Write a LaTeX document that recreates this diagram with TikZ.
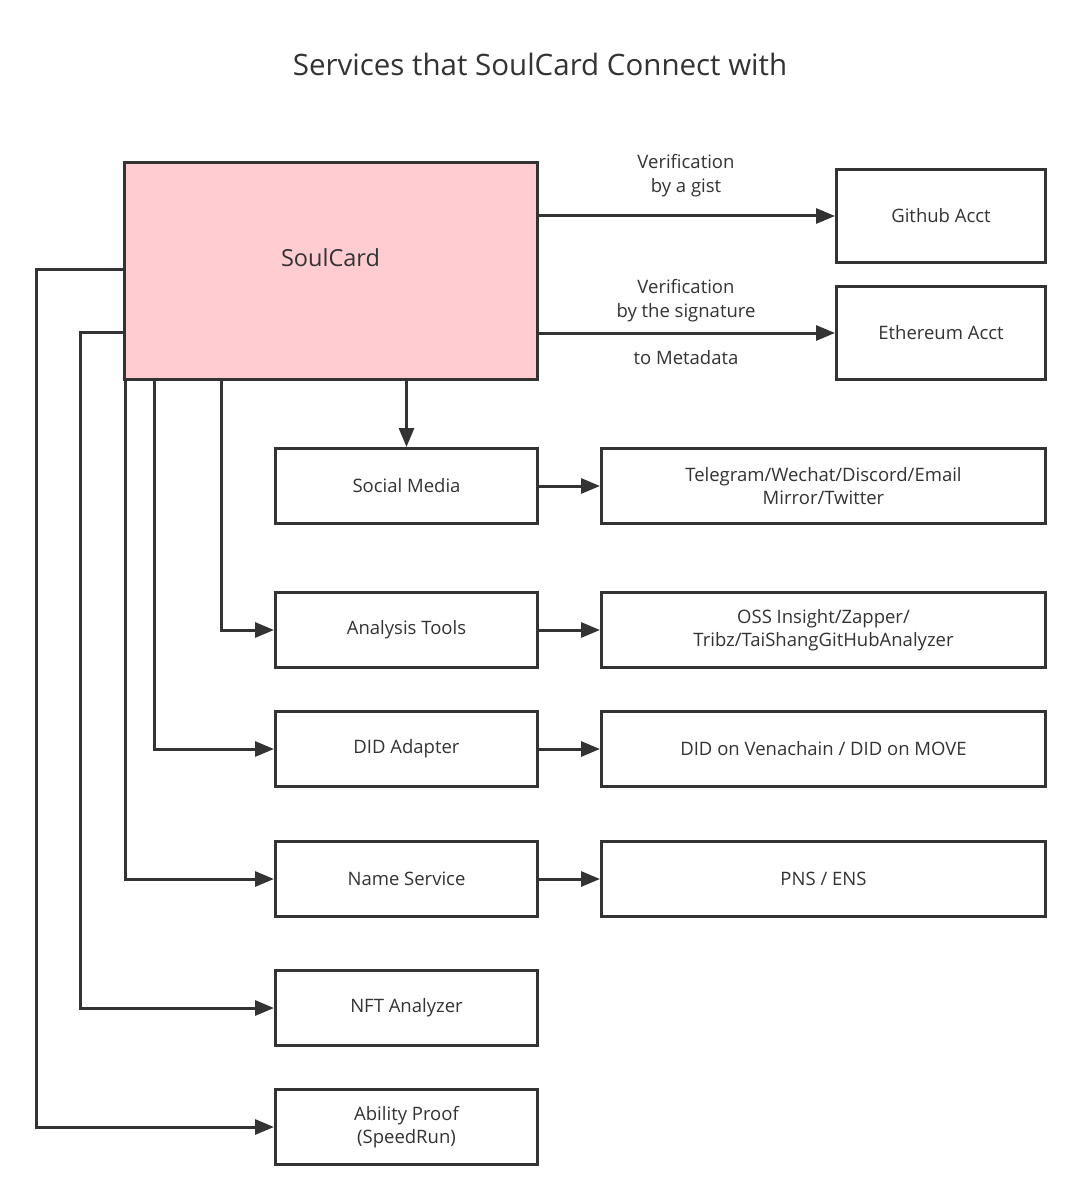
\documentclass[tikz,border=0pt]{standalone}
\usepackage{fontspec}
\setmainfont{Open Sans}
\usetikzlibrary{arrows.meta}
\definecolor{ink}{HTML}{333333}
\definecolor{soulpink}{HTML}{FFCCD2}
\tikzset{
  box/.style={draw=ink, line width=3pt, fill=white, inner sep=0pt, anchor=north west, text=ink, font=\fontsize{18.5}{23}\selectfont, align=center},
  conn/.style={draw=ink, line width=3pt, -{Triangle[length=19pt,width=15pt]}},
  lbl/.style={text=ink, font=\fontsize{18.5}{24}\selectfont, align=center, inner sep=0pt}
}
\begin{document}
\begin{tikzpicture}[x=1pt,y=-1pt]
\useasboundingbox[fill=white] (0,0) rectangle (1080,1198);
\node[text=ink, font=\fontsize{29.5}{34}\selectfont] (title) at (540,64) {Services that SoulCard Connect with};

\node[box, fill=soulpink, minimum width=413pt, minimum height=217pt, font=\fontsize{23.5}{28}\selectfont] (soul) at (122.5,161) {\raisebox{27pt}{SoulCard}};

\node[box, minimum width=209pt, minimum height=93pt] (github) at (835,168) {Github Acct};
\node[box, minimum width=209pt, minimum height=93pt] (eth) at (835,285) {Ethereum Acct};

\node[box, minimum width=262pt, minimum height=75pt] (social) at (274,447) {Social Media};
\node[box, minimum width=444pt, minimum height=75pt] (socialt) at (600,447) {Telegram/Wechat/Discord/Email\\Mirror/Twitter};

\node[box, minimum width=262pt, minimum height=75pt] (analysis) at (274,591) {Analysis Tools};
\node[box, minimum width=444pt, minimum height=75pt] (analysist) at (600,591) {OSS Insight/Zapper/\\Tribz/TaiShangGitHubAnalyzer};

\node[box, minimum width=262pt, minimum height=75pt] (did) at (274,710) {DID Adapter};
\node[box, minimum width=444pt, minimum height=75pt] (didt) at (600,710) {DID on Venachain / DID on MOVE};

\node[box, minimum width=262pt, minimum height=75pt] (name) at (274,840) {Name Service};
\node[box, minimum width=444pt, minimum height=75pt] (namet) at (600,840) {PNS / ENS};

\node[box, minimum width=262pt, minimum height=75pt] (nft) at (274,969) {NFT Analyzer};

\node[box, minimum width=262pt, minimum height=75pt] (ability) at (274,1088) {Ability Proof\\(SpeedRun)};

% labels
\node[lbl] (l1) at (686,176) {Verification\\by a gist};
\node[lbl] (l2) at (686,301) {Verification\\by the signature};
\node[lbl] (l3) at (686,358) {to Metadata};

% right connectors
\draw[conn] (soul.east |- github.west) -- (github.west);
\draw[conn] (soul.east |- eth.west) -- (eth.west);

% down to social
\draw[conn] (soul.south -| social.north) -- (social.north);
\draw[conn] (social.east) -- (socialt.west);
\draw[conn] (analysis.east) -- (analysist.west);
\draw[conn] (did.east) -- (didt.west);
\draw[conn] (name.east) -- (namet.west);

% elbows from bottom
\coordinate (a1) at (221,378);
\coordinate (a2) at (154,378);
\coordinate (a3) at (125,378);
\draw[conn] (a1) |- (analysis.west);
\draw[conn] (a2) |- (did.west);
\draw[conn] (a3) |- (name.west);

% elbows from left
\coordinate (b1) at (122.5,332);
\coordinate (b1x) at (80,332);
\coordinate (b2) at (122.5,269);
\coordinate (b2x) at (36,269);
\draw[conn] (b1) -- (b1x) |- (nft.west);
\draw[conn] (b2) -- (b2x) |- (ability.west);
\end{tikzpicture}
\end{document}
